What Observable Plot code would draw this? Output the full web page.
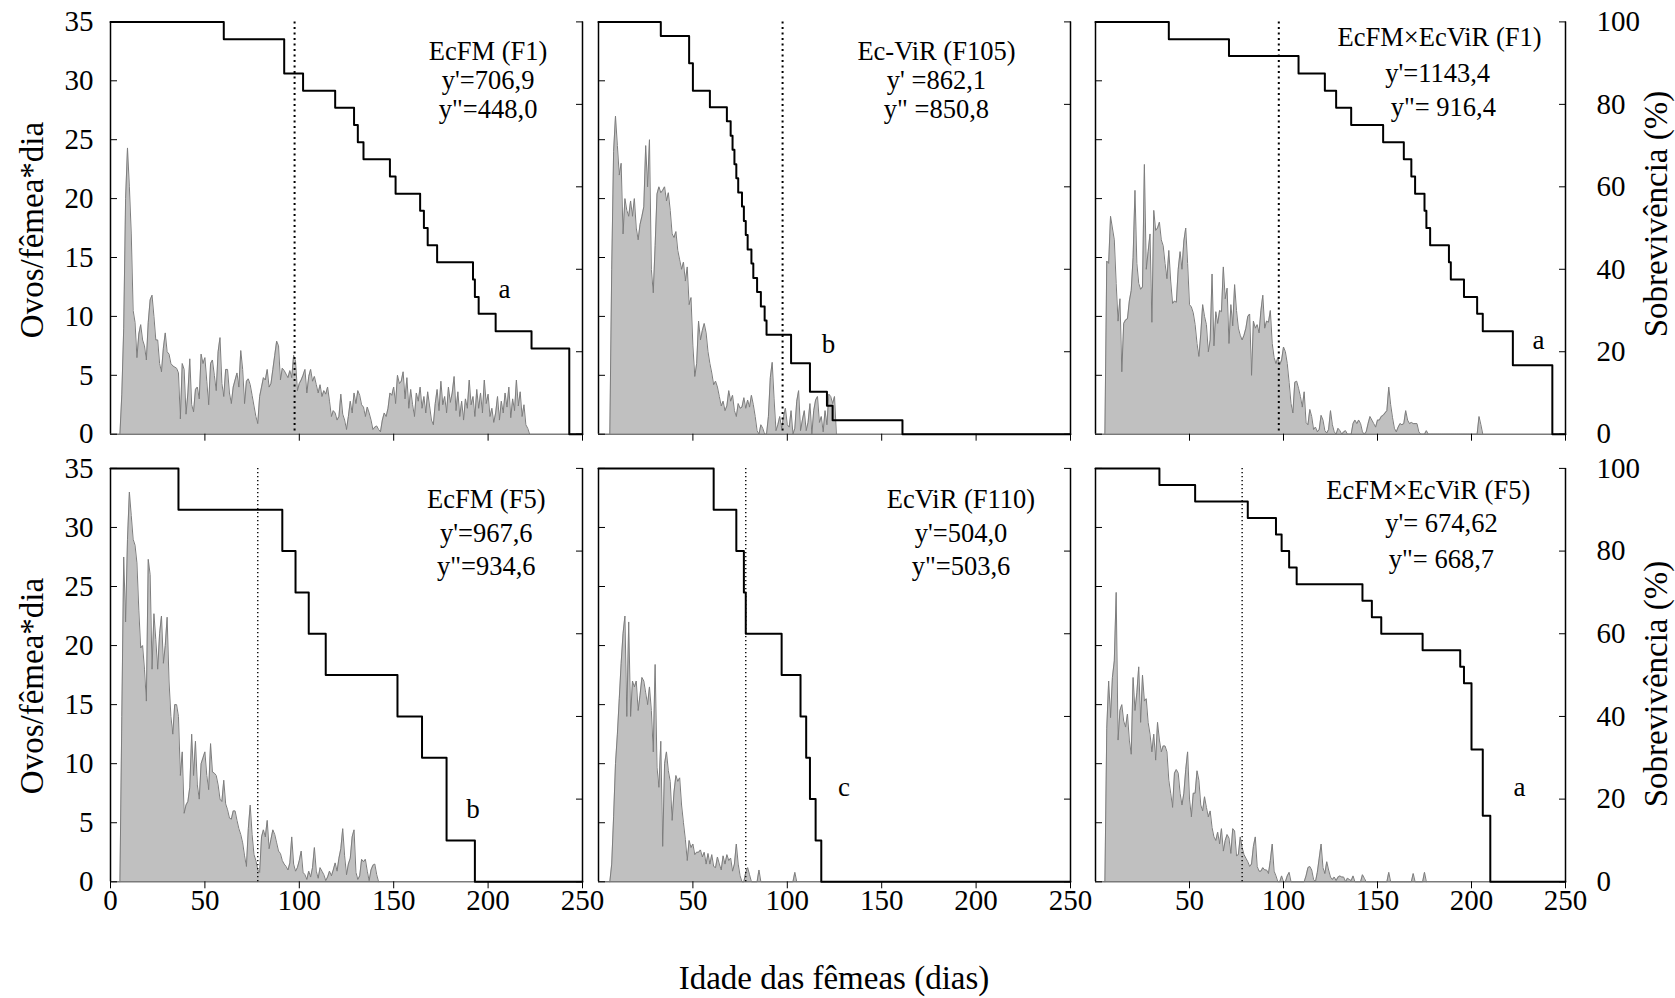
<!DOCTYPE html>
<html><head><meta charset="utf-8">
<script src="https://cdn.jsdelivr.net/npm/d3@7"></script>
<script src="https://cdn.jsdelivr.net/npm/@observablehq/plot@0.6"></script>
<style>
html,body{margin:0;padding:0;background:#fff;}
#fig{position:relative;width:1675px;height:998px;overflow:hidden;font-family:"Liberation Serif","Times New Roman",serif;background:#fff;}
#fig svg{position:absolute;left:0;top:0;}
.ttl{position:absolute;font-size:33px;white-space:nowrap;line-height:1;color:#000;transform:translate(-50%,-50%);}
.rot{transform:translate(-50%,-50%) rotate(-90deg);}
</style></head><body><div id="fig"></div>
<script>
// ---------- data ----------
const eggTicks = [0, 5, 10, 15, 20, 25, 30, 35];
const survTicks = [0, 20, 40, 60, 80, 100];
const dayTicks = [0, 50, 100, 150, 200, 250];

const panelTitles = ["EcFM (F1)", "Ec-ViR (F105)", "EcFM×EcViR (F1)", "EcFM (F5)", "EcViR (F110)", "EcFM×EcViR (F5)"];
const yPrime = ["y'=706,9", "y' =862,1", "y'=1143,4", "y'=967,6", "y'=504,0", "y'= 674,62"];
const yDouble = ['y"=448,0', 'y" =850,8', 'y"= 916,4', 'y"=934,6', 'y"=503,6', 'y"= 668,7'];
const letters = ["a", "b", "a", "b", "c", "a"];
const meanDays = [97.5, 97.5, 97.5, 78, 78, 78];

// daily eggs per female (first value = day given by *_start)
const eggs_EcFM_F1_start = 5;
const eggs_EcFM_F1 = [0,3.4,9,20,24.3,21,17,10.5,9.5,6.5, 8.5,9.3,8,7.5,6.3,9.5,11.4,11.8,10,8, 8,6,5.3,7.3,8.6,7,6.8,6,5.8,5.7,
 5.6,5.2,1.3,6,5.5,1.7,3.5,6.4,2.5,1.9, 3.8,4,3,6.8,6,6.5,4.5,2.5,6,6.3, 5,3.7,7,8.2,4.3,3.2,5.5,5.5,3.5,2.6,
 4,4.6,5.2,4,7.1,5.5,2.6,4.5,4.7,4.2, 3.3,2.4,1.5,0.9,3.2,4,4.8,4.6,5.5,4, 4.3,5.5,6.7,7.9,7.5,4.6,5.6,5.4,5.1,4.8,
 5.4,4.8,6.7,6.2,3.7,4.3,4.6,5,5.5,3.5, 4.9,5.5,4.5,4.9,4.2,3.5,4.2,3.2,3.7,3.4, 4,2.8,1.5,2,1.8,1.2,1.5,3.4,1.7,1.2,
 0.4,1.5,2.8,1.8,3.5,2.6,3.7,3.3,2.5,2.3, 1.5,2.3,1.8,1.2,0.4,0.6,0.7,0.4,0.2,1.2, 1.8,1.5,2.2,3.5,3.3,4,2.6,5,4.3,4.5,
 5.3,3,4.8,2.2,3.8,2.5,1.5,3.5,2.8,4, 2.2,3.2,1.8,3.6,2.4,1.2,0.8,2.6,3.8,2, 4.5,2.5,3.2,1.8,4,2.7,3.5,4.9,2,3.6,
 1.5,2.8,1.2,3,2.2,4.6,2.5,3.2,1.5,3.8, 2.2,3.5,1.8,4.6,2.6,3.4,1.5,2.2,1,1.8, 3.2,1.2,2.8,1.8,3.5,2.3,4,1.4,3,2,
 4.6,2.4,3.6,1.5,2.5,0.8,0.5,0];

const eggs_EcViR_F105_start = 6;
const eggs_EcViR_F105 = [0,14,24,27,24.5,22,23,17,20,19, 18.5,19.8,18.5,20,17.5,16.5,17.8,18.5,19.3,24.5,
 21,25,14,12,16,20.4,21,20.5,20.7,21, 19.8,20.5,19,17,16.7,17.2,15.6,14.8,14,14.6, 13,14.2,11,11.6,7.5,4.9,6,9.6,8,8.8,
 9.4,8.6,7,6,5.2,4.2,4.5,4,3.2,2.4, 2.8,2,2.4,3.7,2.8,3.3,2,1.5,2.6,2.2, 2.3,3.1,2.2,2.9,2.3,3.3,2.5,1.5,0.3,0,
 0.8,0.5,0,0,1.5,4.8,6.1,3,0.3,0.8, 1.5,0.5,1.5,2.2,0.8,0.6,2,0,0.5,2.8, 3.7,0.3,1.2,2,0.3,1,2.6,0,2,2.9,
 3.2,1,1.5,0.2,2,0.8,3.4,3.2,2.6,3.2, 0];

const eggs_Hybrid_F1_start = 5;
const eggs_Hybrid_F1 = [0,14.7,14.5,18.5,17.5,16.5,12.8,9.6,11.5,5.3, 9.4,9.7,9.8,11.3,12.2,15,20.7,14.5,12.8,12.3,
 12.5,22.9,14,15.5,17,9.5,19,17.3,17.5,18, 16.5,16,14.5,13.2,15.6,13,11.1,11.3,11.2,14, 15.5,14,16.4,17.5,14.5,11,10.8,10.3,9.3,7.7,
 6.6,8.5,11,10,9.3,7,8,13.6,7.5,10.4, 9.4,10.5,10.4,14.2,11.5,12.4,7.7,11,9.2,12.7, 10.5,9,8.4,8,8.4,9,10,10.2,5,9.6,
 9,9.3,8.6,10.5,11.8,9,9.6,9.5,10.5,7.7, 6.5,6,6.5,5.9,6.3,7.4,7,6,4.4,2.6, 1.8,4.4,4.5,3.9,3.2,2.3,3.6,1,0.8,2.1,
 1.5,0.4,0.6,0.2,0.4,1.6,1.2,0.3,0.1,0.4, 2,0.8,0.2,0,0.5,0.3,0,0.2,0.3,0, 0,0,0.9,1.2,0.9,1.2,0.9,0.2,0,0.2,
 0.9,1.5,1.2,0.9,0.6,1.2,1.2,1.5,1.6,1.8, 2,4,2.5,1.4,0.5,0.2,0.6,0.9,0.8,0.9, 2,1.2,0.9,1,0.9,0.9,0.9,0.2,0,0,
 0,0.3,0,0,0,0,0,0,0,0, 0,0,0,0,0,0,0,0,0,0, 0,0,0,0,0,0,0,0,0,1.5, 0.8,0];

const eggs_EcFM_F5_start = 5;
const eggs_EcFM_F5 = [0,14,27.5,22,29,33,31,29,28.5,27, 23,19.8,20,18,15.3,27.3,26,18,22.7,20.5,
 18,21,22.5,18.5,20,22.4,17,14,12.5,15, 15,14,9,11,5.8,6.5,6.8,8,12.5,9, 11.9,8.2,7,10,10.5,11,9,7.8,11.7,9.3,
 9.2,9,8.2,7,6.8,8.6,6.6,6.1,5.4,5.3, 6,6,5.2,4.5,4,3.3,2.2,1.3,4.5,6.5, 4,2.3,1.8,1,0.8,3.8,4.4,3.8,5.2,2.8,
 3.6,4.4,4,3.3,2.6,2.4,1.8,1.5,1.3,1, 1.6,3.8,1.5,0.9,1.2,1.8,2.6,0.8,0.6,0.2, 0.9,0.4,1.2,2.9,0.9,0.3,1.2,0.9,0.6,0.1,
 0.4,0.9,0.5,1,1.6,0.9,2,2.8,4.5,2.2, 0.6,1.5,2,3.8,4.4,0.8,0.2,0.5,1.9,1.7, 1.9,0.9,0.1,1,1.4,1.5,0.6,0];

const eggs_EcViR_F110_start = 6;
const eggs_EcViR_F110 = [0,1.5,5.5,10,12.5,15.5,18.5,21,22.5,14, 22,14,17,16.5,17,14.5,15.8,17.3,17,16,
 15,16.5,14.5,11,18.4,9.7,8,11.9,3,10, 11,9.4,8.5,5.2,7.6,9,8.5,8.8,6.5,5, 3.6,1.8,3.5,2.9,3.2,2.3,2.5,2.5,2.7,2.1,
 2.5,1.5,2.4,1.5,2.3,1.3,1.2,2.1,1.5,1, 2.2,1.5,2.3,1.8,2,0.9,1.5,3.2,1.5,0.5, 0,0,0.8,1.2,0.6,0,0,0,0,1,
 0,0,0,0,0,0,0,0,0,0, 0,0,0,0,0,0,0,0,0.8,0];

const eggs_Hybrid_F5_start = 5;
const eggs_Hybrid_F5 = [0,13,17,13.9,17.3,18.7,24.5,12,14.5,15, 13.6,13.1,14.2,12,10.8,17.3,14.5,16,18.2,13.5,
 17.5,15.3,15.5,13.5,12.5,11,12.5,10.3,13.5,12, 11,11.5,11.5,11,8.6,7.5,6.3,9.2,9.5,9.2, 7.5,6.5,7.5,9.5,11,7,5.5,7.5,7.5,9.4,
 8.6,6.5,6,7.2,6.3,5.5,6,4.6,3.8,3.5, 4.2,3.2,4.5,2.6,3.5,4,3.7,2.4,4.5,4.3, 2.2,2.3,3.8,2.9,2.3,2,1.7,1.3,1.5,3,
 3.8,1.3,0.9,0.9,1.2,1,1,0.7,1.8,3.2, 0.9,0.5,0,0,0.5,0,0,0.5,0.8,0, 0,0,0,0,0,0,0,0.5,1.2,1.3,
 1,0.2,0,0.8,2,3.2,1.2,0.7,1.7,1, 0.4,0.2,0.4,0.1,0.4,0.5,0.4,0.4,0,0.3, 0.2,0.1,0.5,0,0,0,0,0.6,0.3,0,
 0,0,0,0,0,0,0,0,0,0, 0,0.8,0,0,0,0,0,0,0,0, 0,0,0,0,0.7,0,0,0,0,0, 0.8,0];

// survival (%) step curves: day of change, new value
const surv_EcFM_F1_days = [0,60,92,102,119,129,131,134,148,151,164,166,168,173,192,193,195,204,223,243,250];
const surv_EcFM_F1_pct  = [100,95.8,87.5,83.3,79.2,75,70.8,66.7,62.5,58.3,54.2,50,45.8,41.7,37.5,33.3,29.2,25,20.8,0,0];
const surv_EcViR_F105_days = [0,33,48,50,59,68,70,71,72,73,74,76,77,78,79,81,82,84,86,88,89,102,112,121,124,161,250];
const surv_EcViR_F105_pct  = [100,96.6,90,83.3,79.3,75.9,72.4,69,65.5,62.1,58.6,55.2,51.7,48.3,44.8,41.4,37.9,34.5,31,27.6,24.1,17.2,10.3,6.9,3.4,0,0];
const surv_Hybrid_F1_days = [0,39,71,108,122,128,136,153,164,168,170,175,176,178,188,189,196,203,206,222,243,250];
const surv_Hybrid_F1_pct  = [100,95.8,91.7,87.5,83.3,79.2,75,70.8,66.7,62.5,58.3,54.2,50,45.8,41.7,37.5,33.3,29.2,25,16.7,0,0];
const surv_EcFM_F5_days = [0,36,91,98,105,114,152,165,178,193,250];
const surv_EcFM_F5_pct  = [100,90,80,70,60,50,40,30,10,0,0];
const surv_EcViR_F110_days = [0,61,73,77,78,97,107,110,112,115,118,250];
const surv_EcViR_F110_pct  = [100,90,80,70,60,50,40,30,20,10,0,0];
const surv_Hybrid_F5_days = [0,34,53,81,96,99,103,107,142,147,152,174,194,196,200,206,210,250];
const surv_Hybrid_F5_pct  = [100,96,92,88,84,80,76,72,68,64,60,56,52,48,32,16,0,0];

// ---------- layout ----------
const W = 1675, H = 998;
const COLS = [[110, 582], [598, 1070], [1095, 1565]];
const ROWS = [[21.4, 433.7], [467.9, 881.3]];
const FONT = '"Liberation Serif", "Times New Roman", serif';

const panels = [
  {col:0,row:0,start:eggs_EcFM_F1_start,eggs:eggs_EcFM_F1,sd:surv_EcFM_F1_days,sv:surv_EcFM_F1_pct,
   tx:[200,200,200],ty:[32.46,30.0,27.56],lx:208.7,ly:12.3},
  {col:1,row:0,start:eggs_EcViR_F105_start,eggs:eggs_EcViR_F105,sd:surv_EcViR_F105_days,sv:surv_EcViR_F105_pct,
   tx:[179,179,179],ty:[32.46,30.0,27.56],lx:121.8,ly:7.6},
  {col:2,row:0,start:eggs_Hybrid_F1_start,eggs:eggs_Hybrid_F1,sd:surv_Hybrid_F1_days,sv:surv_Hybrid_F1_pct,
   tx:[183,182,185],ty:[33.7,30.6,27.7],lx:235.6,ly:8.0},
  {col:0,row:1,start:eggs_EcFM_F5_start,eggs:eggs_EcFM_F5,sd:surv_EcFM_F5_days,sv:surv_EcFM_F5_pct,
   tx:[199,199,199],ty:[32.4,29.5,26.7],lx:192,ly:6.15},
  {col:1,row:1,start:eggs_EcViR_F110_start,eggs:eggs_EcViR_F110,sd:surv_EcViR_F110_days,sv:surv_EcViR_F110_pct,
   tx:[192,192,192],ty:[32.4,29.5,26.7],lx:130,ly:8.0},
  {col:2,row:1,start:eggs_Hybrid_F5_start,eggs:eggs_Hybrid_F5,sd:surv_Hybrid_F5_days,sv:surv_Hybrid_F5_pct,
   tx:[177,184,184],ty:[33.1,30.3,27.3],lx:225.5,ly:8.0}
];

const fig = document.getElementById("fig");
const blank = () => "";

panels.forEach((p, k) => {
  const [x0, x1] = COLS[p.col], [y0, y1] = ROWS[p.row];
  const frame = {width: W, height: H, marginLeft: x0, marginRight: W - x1, marginTop: y0, marginBottom: H - y1};
  const style = {background: "transparent", fontFamily: FONT, fontSize: "29px", overflow: "visible"};
  const eggData = p.eggs.map((v, i) => ({day: p.start + i, eggs: v}));
  const survData = p.sd.map((d, i) => ({day: d, s: p.sv[i]}));
  const bottom = p.row === 1;
  const xt = bottom && p.col === 0 ? dayTicks : dayTicks.slice(1);
  const lines = [panelTitles[k], yPrime[k], yDouble[k]].map((t, i) => ({t, x: p.tx[i], y: p.ty[i]}));
  const top = p.row === 0;

  const eggsPlot = Plot.plot({
    ...frame, style,
    x: {domain: [0, 250], axis: null, label: null},
    y: {domain: [0, 35], axis: null, label: null},
    marks: [
      Plot.areaY(eggData, {x: "day", y: "eggs", fill: "#c0c0c0"}),
      Plot.lineY(eggData, {x: "day", y: "eggs", stroke: "#7d7d7d", strokeWidth: 1}),
      Plot.ruleY([0], {stroke: "#7a7a7a", strokeWidth: 1.5}),
      Plot.ruleX([meanDays[k]], {stroke: "#000", strokeWidth: top ? 2 : 1.4, strokeDasharray: top ? "2,3.5" : "1.4,2.6"}),
      Plot.ruleX([0], {stroke: "#000", strokeWidth: 1.5}),
      Plot.axisY({ticks: eggTicks, tickSize: -7, tickPadding: 24, fontSize: 29, tickFormat: p.col === 0 ? d => String(d) : blank}),
      Plot.axisX({ticks: xt, tickSize: 7, tickPadding: 1, fontSize: 29, tickFormat: bottom ? d => String(d) : blank}),
      Plot.text(lines, {x: "x", y: "y", text: "t", fontSize: 26.5, textAnchor: "middle", lineAnchor: "middle", fill: "#000"}),
      Plot.text([letters[k]], {x: () => p.lx, y: () => p.ly, text: d => d, fontSize: 27, textAnchor: "middle", lineAnchor: "middle", fill: "#000"})
    ]
  });
  fig.appendChild(eggsPlot);

  const survPlot = Plot.plot({
    ...frame, style,
    x: {domain: [0, 250], axis: null, label: null},
    y: {domain: [0, 100], axis: null, label: null},
    marks: [
      Plot.ruleX([250], {stroke: "#000", strokeWidth: 1.5}),
      Plot.axisY({anchor: "right", ticks: survTicks, tickSize: -7, tickPadding: 38, fontSize: 29, tickFormat: p.col === 2 ? d => String(d) : blank}),
      Plot.line(survData, {x: "day", y: "s", curve: "step-after", stroke: "#000", strokeWidth: 2})
    ]
  });
  fig.appendChild(survPlot);
});

function addTitle(text, cx, cy, rotate) {
  const d = document.createElement("div");
  d.className = "ttl" + (rotate ? " rot" : "");
  d.textContent = text;
  d.style.left = cx + "px";
  d.style.top = cy + "px";
  fig.appendChild(d);
}
addTitle("Ovos/fêmea*dia", 32, 230, true);
addTitle("Ovos/fêmea*dia", 32, 686, true);
addTitle("Sobrevivência (%)", 1656, 214, true);
addTitle("Sobrevivência (%)", 1656, 684, true);
addTitle("Idade das fêmeas (dias)", 834, 978, false);
</script></body></html>
